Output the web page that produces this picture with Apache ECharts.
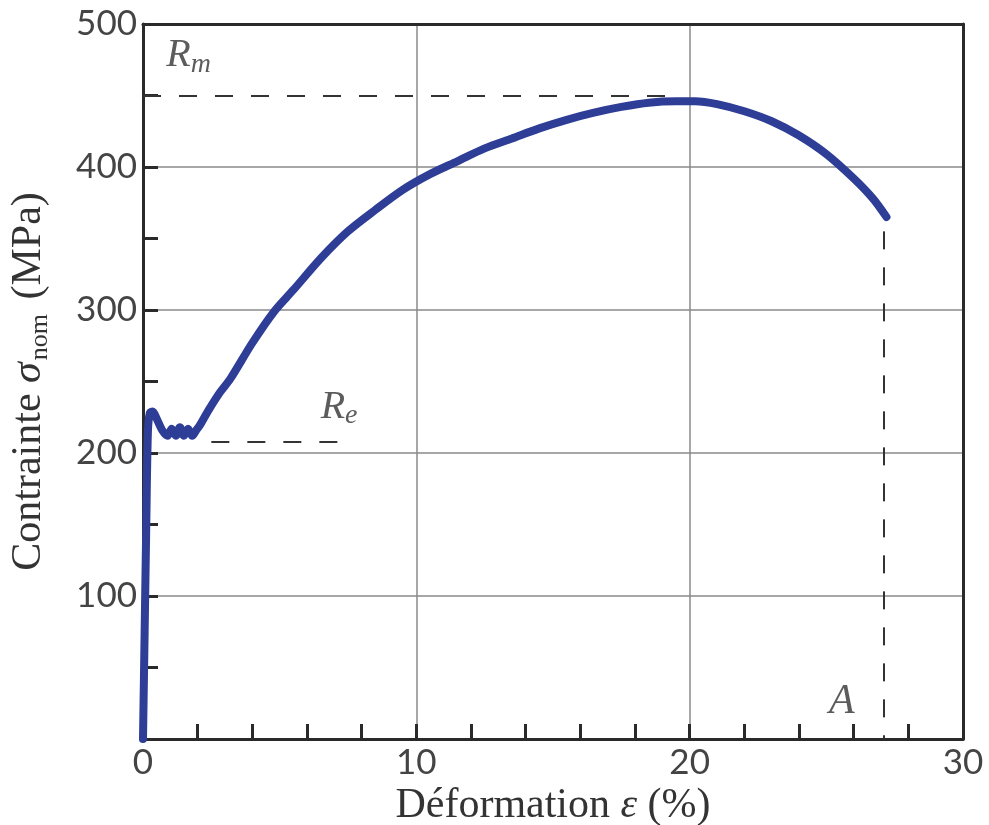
<!DOCTYPE html>
<html>
<head>
<meta charset="utf-8">
<script src="https://cdn.jsdelivr.net/npm/echarts@6/dist/echarts.min.js"></script>
<style>html,body{margin:0;padding:0;background:#fff}#c{width:989px;height:825px}</style>
</head>
<body>
<div id="c"></div>
<script>
// Strain (%) and nominal stress (MPa)
const strain = [0, 0.06, 0.12, 0.18, 0.25, 0.35, 0.5, 0.7, 0.9, 1.05, 1.2, 1.35, 1.5, 1.65, 1.8, 1.95, 2.1, 2.4, 2.8, 3.2, 4.0, 4.8, 5.5, 6.5, 7.5, 8.5, 9.5, 10.5, 11.5, 12.5, 13.5, 14.5, 15.5, 16.5, 17.5, 18.5, 19.5, 20.2, 21.0, 22.0, 23.0, 24.0, 25.0, 26.0, 26.7, 27.2];
const stress = [0, 75, 150, 215, 228, 229, 224, 216, 212, 217, 212, 218, 212, 217, 212, 216, 220, 230, 242, 252, 277, 299, 314, 336, 355, 370, 384, 395, 404, 413, 420, 427, 433, 438, 442, 445, 446, 446, 444, 439, 432, 422, 409, 392, 378, 365];
const xTicks = [0, 10, 20, 30];
const yTicks = [100, 200, 300, 400, 500];
const RmLine = [[0, 450], [19.3, 450]];
const ReLine = [[2.5, 208], [7.6, 208]];
const ALine = [[27.1, 355], [27.1, 0]];
const labelPoints = [
  { name: 'Rm', value: [0.85, 462], main: 'R', sub: 'm' },
  { name: 'Re', value: [6.5, 216], main: 'R', sub: 'e' },
  { name: 'A', value: [25.1, 11], main: 'A', sub: '' }
];

const curve = strain.map((x, i) => [x, stress[i]]);
const dashStyle = { color: '#333', width: 2, type: [18, 18] };
const serif = '"Liberation Serif", "DejaVu Serif", serif';
const sans = 'Lato, "Open Sans", sans-serif';
const dark = '#2a2a2a';

const chart = echarts.init(document.getElementById('c'), null, { renderer: 'canvas' });
chart.setOption({
  animation: false,
  backgroundColor: '#fff',
  grid: { left: 143, right: 26, top: 24, bottom: 86, containLabel: false, outerBoundsMode: 'none' },
  xAxis: [{
    type: 'value', min: 0, max: 30, interval: 10,
    name: 'Déformation {g|ε} (%)',
    nameLocation: 'middle', nameGap: 36,
    nameTextStyle: {
      fontFamily: serif, fontSize: 42, color: '#333',
      rich: { g: { fontFamily: serif, fontSize: 42, fontStyle: 'italic', color: '#333' } }
    },
    axisLine: { show: true, lineStyle: { color: dark, width: 3 } },
    axisTick: { show: true, inside: true, length: 15, lineStyle: { color: dark, width: 3 } },
    minorTick: { show: true, splitNumber: 5, length: 15, lineStyle: { color: dark, width: 3 } },
    axisLabel: {
      margin: 6, fontFamily: sans, fontSize: 35, color: '#444',
      formatter: v => xTicks.includes(v) ? String(v) : ''
    },
    splitLine: { show: true, lineStyle: { color: '#8a8a8a', width: 1.5 } }
  }, {
    type: 'value', min: 0, max: 30, position: 'top', z: 10,
    axisLine: { show: true, onZero: false, lineStyle: { color: dark, width: 3 } },
    axisTick: { show: false }, axisLabel: { show: false }, splitLine: { show: false }
  }],
  yAxis: [{
    type: 'value', min: 0, max: 500, interval: 100,
    name: 'Contrainte {g|σ}{s|nom} (MPa)',
    nameLocation: 'middle', nameGap: 90, nameRotate: 90,
    nameTextStyle: {
      fontFamily: serif, fontSize: 42, color: '#333',
      rich: {
        g: { fontFamily: serif, fontSize: 42, fontStyle: 'italic', color: '#333' },
        s: { fontFamily: serif, fontSize: 26, color: '#333', padding: [22, 4, 0, 2] }
      }
    },
    axisLine: { show: true, lineStyle: { color: dark, width: 3 } },
    axisTick: { show: true, inside: true, length: 15, lineStyle: { color: dark, width: 3 } },
    minorTick: { show: true, splitNumber: 2, length: 15, lineStyle: { color: dark, width: 3 } },
    axisLabel: {
      margin: 6, fontFamily: sans, fontSize: 35, color: '#444',
      formatter: v => yTicks.includes(v) ? String(v) : ''
    },
    splitLine: { show: true, lineStyle: { color: '#8a8a8a', width: 1.5 } }
  }, {
    type: 'value', min: 0, max: 500, position: 'right', z: 10,
    axisLine: { show: true, onZero: false, lineStyle: { color: dark, width: 3 } },
    axisTick: { show: false }, axisLabel: { show: false }, splitLine: { show: false }
  }],
  series: [
    {
      type: 'line', data: curve, showSymbol: false, smooth: 0.3,
      lineStyle: { color: '#2e3d96', width: 8, cap: 'round', join: 'round' },
      z: 5,
      markLine: {
        symbol: 'none', silent: true, label: { show: false },
        lineStyle: dashStyle,
        data: [
          [{ coord: RmLine[0] }, { coord: RmLine[1] }],
          [{ coord: ReLine[0] }, { coord: ReLine[1] }],
          [{ coord: ALine[0] }, { coord: ALine[1] }]
        ]
      }
    },
    {
      type: 'scatter', symbolSize: 0, silent: true, z: 6,
      data: labelPoints.map(p => ({ name: p.name, value: p.value, main: p.main, sub: p.sub })),
      label: {
        show: true, position: [0, 0], align: 'left', verticalAlign: 'bottom',
        formatter: p => p.data.sub ? '{R|' + p.data.main + '}{s|' + p.data.sub + '}' : '{A|' + p.data.main + '}',
        rich: {
          R: { fontFamily: serif, fontSize: 40, fontStyle: 'italic', color: '#333' },
          A: { fontFamily: serif, fontSize: 42, fontStyle: 'italic', color: '#333' },
          s: { fontFamily: serif, fontSize: 28, fontStyle: 'italic', color: '#333', padding: [18, 0, 0, 0] }
        }
      }
    }
  ]
});
</script>
</body>
</html>
